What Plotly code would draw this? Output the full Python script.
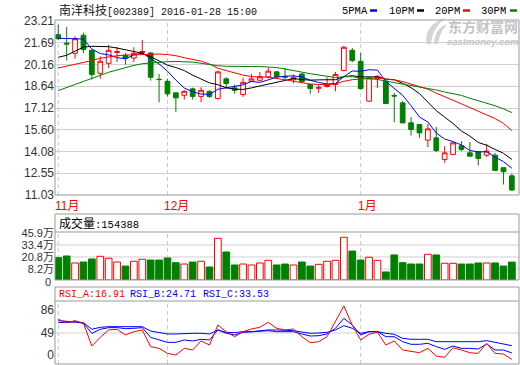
import plotly.graph_objects as go

# ---------------- data ----------------
dates = [
    "2015-11-12", "2015-11-13", "2015-11-16", "2015-11-17", "2015-11-18", "2015-11-19", "2015-11-20",
    "2015-11-23", "2015-11-24", "2015-11-25", "2015-11-26", "2015-11-27", "2015-11-30",
    "2015-12-01", "2015-12-02", "2015-12-03", "2015-12-04", "2015-12-07", "2015-12-08", "2015-12-09",
    "2015-12-10", "2015-12-11", "2015-12-14", "2015-12-15", "2015-12-16", "2015-12-17", "2015-12-18",
    "2015-12-21", "2015-12-22", "2015-12-23", "2015-12-24", "2015-12-25", "2015-12-28", "2015-12-29",
    "2015-12-30", "2015-12-31",
    "2016-01-04", "2016-01-05", "2016-01-06", "2016-01-07", "2016-01-08", "2016-01-11", "2016-01-12",
    "2016-01-13", "2016-01-14", "2016-01-15", "2016-01-18", "2016-01-19", "2016-01-20", "2016-01-21",
    "2016-01-22", "2016-01-25", "2016-01-26", "2016-01-27", "2016-01-28",
]

open_ = [22.25, 21.66, 20.95, 22.21, 21.16, 19.55, 20.25, 21.00, 20.81, 20.62, 21.00, 20.97, 19.13,
         18.99, 18.18, 18.01, 18.46, 17.93, 18.29, 17.78, 19.16, 18.53, 18.06, 18.99, 19.06, 19.30,
         19.65, 19.32, 19.10, 19.50, 18.76, 18.50, 18.62, 18.76, 19.74, 21.16, 20.39, 17.60, 19.18,
         19.00, 18.00, 17.48, 16.08, 15.96, 14.87, 15.03, 13.52, 13.86, 14.47, 13.98, 14.05, 13.82,
         13.82, 12.94, 12.37]
high = [22.95, 22.79, 22.14, 22.39, 21.20, 20.74, 21.53, 21.40, 20.97, 21.37, 21.88, 21.05, 19.51,
        19.16, 18.20, 18.35, 18.55, 18.57, 18.35, 19.74, 19.27, 18.76, 19.23, 19.51, 19.63, 19.92,
        19.72, 19.92, 19.46, 19.55, 18.80, 18.76, 19.27, 19.65, 21.48, 21.32, 20.97, 19.30, 19.40,
        19.05, 18.18, 17.60, 16.48, 16.00, 16.00, 15.80, 14.45, 14.72, 14.80, 14.73, 14.10, 14.61,
        13.98, 12.95, 12.54]
low = [21.90, 20.44, 20.58, 20.97, 19.11, 19.18, 19.92, 20.35, 20.16, 20.32, 20.95, 19.04, 17.52,
       17.93, 16.85, 17.71, 17.71, 17.52, 17.83, 17.71, 18.48, 18.11, 17.90, 18.94, 18.99, 19.18,
       19.25, 19.10, 18.83, 18.85, 18.11, 18.18, 18.55, 18.30, 19.69, 20.32, 18.41, 17.53, 18.53,
       17.40, 16.13, 16.05, 15.19, 15.03, 14.38, 14.05, 13.29, 13.83, 14.10, 13.68, 13.10, 13.68,
       12.70, 11.77, 11.31]
close = [21.97, 21.60, 21.97, 21.21, 19.46, 20.39, 21.16, 21.07, 20.62, 20.95, 21.07, 19.27, 19.11,
         18.11, 17.83, 18.29, 17.93, 18.36, 17.93, 19.65, 18.83, 18.36, 18.92, 19.16, 19.30, 19.70,
         19.30, 19.28, 19.27, 18.97, 18.48, 18.55, 18.72, 19.46, 21.37, 20.44, 18.48, 19.23, 19.34,
         17.43, 17.96, 16.08, 15.61, 15.38, 15.66, 14.14, 13.98, 14.68, 14.21, 13.75, 13.59, 14.10,
         12.75, 12.66, 11.38]

ma5 = [22.00, 21.99, 21.98, 21.95, 21.24, 20.93, 20.84, 20.65, 20.56, 20.83, 20.97, 20.59, 20.20,
       19.70, 19.07, 18.52, 18.25, 18.10, 18.07, 18.43, 18.54, 18.63, 18.74, 18.98, 18.91, 19.09,
       19.28, 19.35, 19.37, 19.30, 19.06, 18.91, 18.80, 18.84, 19.32, 19.71, 19.69, 19.80, 19.77,
       18.98, 18.49, 18.01, 17.28, 16.49, 16.14, 15.37, 14.95, 14.77, 14.53, 14.15, 14.04, 14.07,
       13.68, 13.37, 12.90]
ma10 = [20.67, 20.81, 21.10, 21.38, 21.44, 21.44, 21.41, 21.32, 21.18, 21.04, 20.95, 20.71, 20.43,
        20.12, 19.95, 19.74, 19.42, 19.15, 18.88, 18.75, 18.53, 18.44, 18.42, 18.53, 18.67, 18.81,
        18.95, 19.04, 19.18, 19.11, 19.07, 19.09, 19.07, 19.10, 19.31, 19.38, 19.30, 19.30, 19.30,
        19.15, 19.10, 18.85, 18.54, 18.13, 17.56, 16.93, 16.48, 16.03, 15.51, 15.15, 14.71, 14.51,
        14.22, 13.95, 13.52]
ma20 = [19.92, 20.04, 20.16, 20.27, 20.44, 20.60, 20.70, 20.78, 20.82, 20.85, 20.87, 20.88, 20.90,
        20.86, 20.78, 20.64, 20.52, 20.40, 20.20, 19.90, 19.74, 19.58, 19.42, 19.32, 19.31, 19.28,
        19.19, 19.10, 19.03, 18.93, 18.80, 18.77, 18.75, 18.81, 18.99, 19.10, 19.13, 19.17, 19.24,
        19.13, 19.09, 18.97, 18.81, 18.62, 18.44, 18.16, 17.89, 17.66, 17.41, 17.15, 16.90, 16.68,
        16.38, 16.04, 15.54]
ma30 = [18.34, 18.55, 18.76, 19.00, 19.23, 19.44, 19.62, 19.78, 19.95, 20.10, 20.22, 20.28, 20.34,
        20.36, 20.38, 20.38, 20.33, 20.25, 20.15, 20.08, 20.04, 20.02, 20.02, 20.02, 20.02, 20.00,
        19.95, 19.85, 19.72, 19.63, 19.52, 19.42, 19.31, 19.25, 19.31, 19.31, 19.22, 19.16, 19.12,
        19.00, 18.90, 18.79, 18.68, 18.59, 18.51, 18.38, 18.24, 18.12, 18.00, 17.80, 17.63, 17.48,
        17.28, 17.06, 16.80]

# volume, in 万
volume = [20.0, 21.8, 14.5, 15.5, 18.7, 21.5, 19.4, 15.5, 11.3, 16.3, 18.4, 17.6, 17.6, 19.7, 14.8,
          13.4, 15.5, 16.3, 10.3, 40.3, 26.0, 12.4, 13.4, 12.4, 14.5, 17.3, 12.4, 13.4, 12.4, 15.5,
          11.3, 13.1, 16.3, 17.3, 41.4, 27.0, 17.6, 20.5, 17.3, 5.1, 22.9, 14.8, 13.4, 13.4, 23.6,
          22.9, 14.2, 14.2, 13.4, 13.4, 14.5, 14.5, 14.5, 11.3, 15.4388]

rsi_a = [65.6, 61.6, 64.0, 60.8, 33.2, 43.7, 52.7, 53.5, 46.6, 50.6, 52.7, 32.3, 30.3, 24.2, 22.2,
         30.3, 28.3, 39.3, 34.4, 58.7, 50.6, 44.5, 50.6, 53.9, 55.9, 62.0, 54.7, 52.7, 53.9, 44.5,
         37.2, 38.4, 44.5, 62.8, 81.9, 58.7, 40.5, 47.4, 49.8, 34.4, 39.3, 28.3, 26.3, 25.0, 30.3,
         21.0, 19.4, 31.1, 28.3, 25.0, 24.2, 36.4, 24.2, 23.4, 16.91]
rsi_b = [61.6, 61.6, 62.4, 60.8, 48.6, 53.5, 55.5, 55.5, 54.3, 54.7, 55.5, 43.7, 40.5, 37.6, 37.6,
         40.5, 39.3, 41.3, 40.5, 52.7, 48.6, 46.6, 49.8, 50.6, 50.6, 51.8, 50.6, 50.2, 50.6, 47.8,
         45.3, 45.7, 47.8, 54.7, 66.9, 58.7, 46.6, 50.6, 50.6, 44.5, 44.5, 38.4, 35.2, 35.2, 36.4,
         32.4, 29.1, 33.2, 30.3, 30.3, 29.5, 35.6, 28.3, 28.3, 24.71]
rsi_c = [64.0, 63.2, 62.8, 61.6, 53.5, 55.9, 56.7, 56.7, 56.3, 55.9, 56.7, 51.4, 49.4, 47.8, 47.8,
         48.6, 48.6, 48.6, 47.8, 52.7, 49.8, 49.4, 50.6, 50.6, 51.6, 52.7, 52.7, 52.3, 51.8, 50.2,
         48.6, 49.0, 49.8, 52.7, 57.9, 54.7, 48.6, 50.6, 50.6, 48.6, 47.4, 42.5, 41.3, 41.3, 41.3,
         38.4, 38.4, 39.3, 39.3, 38.4, 38.4, 39.7, 37.6, 36.4, 33.53]

price_ticks = [11.03, 12.55, 14.08, 15.60, 17.12, 18.64, 20.16, 21.69, 23.21]
vol_ticks = [8.2, 20.8, 33.4, 45.9]
rsi_grid = 49
month_labels = ["11月", "12月", "1月"]

stock_title = "南洋科技"
stock_code = "[002389] 2016-01-28 15:00"

# ---------------- geometry helpers (pixel -> paper) ----------------
def px(x):
    return (x - 55) / 464.0

def py(y):
    return (364 - y) / 344.0

RED = "#ff0000"
GREEN = "#008000"
BLUE = "#0000ff"
GRID = "#d0d0d0"
BORDER = "#999999"
TXT = "#333333"
LAT = "Liberation Sans, Noto Sans CJK SC, sans-serif"
MONO = "Liberation Mono, monospace"
CJK = "Noto Sans CJK SC, sans-serif"

VOL_MIN, VOL_MAX = -3.32, 65.8
RSI_MIN, RSI_MAX = 11.24, 105.0

up = [c >= o for o, c in zip(open_, close)]

fig = go.Figure()

fig.add_trace(go.Candlestick(
    x=dates, open=open_, high=high, low=low, close=close,
    increasing=dict(line=dict(color=RED, width=1), fillcolor="#ffffff"),
    decreasing=dict(line=dict(color=GREEN, width=1), fillcolor=GREEN),
    whiskerwidth=0, xaxis="x", yaxis="y", showlegend=False, hoverinfo="skip",
))
for ser, col in [(ma5, BLUE), (ma10, "#000000"), (ma20, RED), (ma30, GREEN)]:
    fig.add_trace(go.Scatter(x=dates, y=ser, mode="lines", line=dict(color=col, width=1),
                             xaxis="x", yaxis="y", showlegend=False, hoverinfo="skip"))

fig.add_trace(go.Bar(
    x=dates, y=[v - VOL_MIN for v in volume], base=VOL_MIN, width=0.8,
    marker=dict(color=["#ffffff" if u else GREEN for u in up],
                line=dict(color=[RED if u else GREEN for u in up], width=1)),
    xaxis="x", yaxis="y2", showlegend=False, hoverinfo="skip",
))

for ser, col in [(rsi_c, BLUE), (rsi_b, BLUE), (rsi_a, RED)]:
    fig.add_trace(go.Scatter(x=dates, y=ser, mode="lines", line=dict(color=col, width=1),
                             xaxis="x", yaxis="y3", showlegend=False, hoverinfo="skip"))

shapes = []
# gridlines volume / rsi
for v in vol_ticks[:-1]:
    shapes.append(dict(type="line", xref="paper", yref="y2", x0=0, x1=1, y0=v, y1=v,
                       line=dict(color=GRID, width=1), layer="below"))
shapes.append(dict(type="line", xref="paper", yref="y3", x0=0, x1=1, y0=rsi_grid, y1=rsi_grid,
                   line=dict(color=GRID, width=1), layer="below"))

# month separators
month_idx = [i for i in range(len(dates)) if i == 0 or dates[i][5:7] != dates[i - 1][5:7]]
for i in month_idx:
    for (a, b) in [(py(195), py(20)), (py(280), py(232)), (py(364), py(301))]:
        shapes.append(dict(type="line", xref="x", yref="paper", x0=dates[i], x1=dates[i], y0=a, y1=b,
                           line=dict(color="#c8c8c8", width=1, dash="4px,3px"), layer="below"))

# panel borders
for (a, b) in [(py(195), py(20)), (py(280), py(214)), (py(364), py(287))]:
    shapes.append(dict(type="rect", xref="paper", yref="paper", x0=0, x1=1, y0=a, y1=b,
                       line=dict(color=BORDER, width=1), fillcolor="rgba(0,0,0,0)"))
for yy in [232, 301]:
    shapes.append(dict(type="line", xref="paper", yref="paper", x0=0, x1=1, y0=py(yy), y1=py(yy),
                       line=dict(color=BORDER, width=1)))

# legend dashes
for (x0, x1, col) in [(370, 377, BLUE), (417, 424, "#000000"), (463, 470, RED), (510, 517, GREEN)]:
    shapes.append(dict(type="line", xref="paper", yref="paper", x0=px(x0), x1=px(x1),
                       y0=py(10.5), y1=py(10.5), line=dict(color=col, width=2.5)))

# watermark logo swoosh
def path(pts):
    s = "M %f,%f" % (px(pts[0][0]), py(pts[0][1]))
    for i in range(1, len(pts), 3):
        s += " C %f,%f %f,%f %f,%f" % (px(pts[i][0]), py(pts[i][1]), px(pts[i + 1][0]), py(pts[i + 1][1]),
                                       px(pts[i + 2][0]), py(pts[i + 2][1]))
    return s + " Z"

shapes.append(dict(type="path", xref="paper", yref="paper",
                   path=path([(427, 44), (424, 32), (432, 22), (445, 18), (437, 25), (432, 33), (431, 44)]),
                   fillcolor="#d4d4d4", line=dict(width=0), layer="below"))
shapes.append(dict(type="path", xref="paper", yref="paper",
                   path=path([(434, 44), (434, 34), (439, 27), (447, 24), (442, 30), (439, 37), (438, 44)]),
                   fillcolor="#d4d4d4", line=dict(width=0), layer="below"))

ann = []
ann.append(dict(xref="paper", yref="paper", x=px(57), y=py(10), xanchor="left", yanchor="middle",
                showarrow=False, font=dict(family=CJK, size=12, color="#111111"),
                text=stock_title + "<span style='font-family:Liberation Mono;font-size:10px'>" + stock_code + "</span>"))
for (x, t) in [(340, "5PMA"), (387, "10PM"), (433, "20PM"), (479, "30PM")]:
    ann.append(dict(xref="paper", yref="paper", x=px(x), y=py(10.5), xanchor="left", yanchor="middle",
                    showarrow=False, font=dict(family=MONO, size=10.5, color="#000000"), text=t))
ann.append(dict(xref="paper", yref="paper", x=px(483), y=py(26), xanchor="center", yanchor="middle",
                showarrow=False, font=dict(family=CJK, size=14, color="#c4c4c4"), text="<b>东方财富网</b>"))
ann.append(dict(xref="paper", yref="paper", x=px(483), y=py(41.5), xanchor="center", yanchor="middle",
                showarrow=False, font=dict(family=LAT, size=9.5, color="#c4c4c4"), text="<b><i>eastmoney.com</i></b>"))
for i, lab in zip(month_idx, month_labels):
    ann.append(dict(xref="x", yref="paper", x=dates[i], y=py(206), xanchor="left", yanchor="middle",
                    xshift=-5, showarrow=False, font=dict(family=LAT, size=12, color=RED), text=lab))
ann.append(dict(xref="paper", yref="paper", x=px(57), y=py(223), xanchor="left", yanchor="middle",
                showarrow=False, font=dict(family=CJK, size=12, color="#000000"),
                text="成交量<span style='font-family:Liberation Mono;font-size:10.5px'>:%d</span>" % round(volume[-1] * 10000)))
for (x, t, col) in [(57, "RSI_A:%.2f" % rsi_a[-1], RED), (128, "RSI_B:%.2f" % rsi_b[-1], BLUE),
                    (201, "RSI_C:%.2f" % rsi_c[-1], BLUE)]:
    ann.append(dict(xref="paper", yref="paper", x=px(x), y=py(294), xanchor="left", yanchor="middle",
                    showarrow=False, font=dict(family=MONO, size=10, color=col), text=t))
# volume-axis floor label
ann.append(dict(xref="paper", yref="paper", x=px(53), y=py(281.5), xanchor="right", yanchor="middle",
                showarrow=False, font=dict(family=LAT, size=11, color=TXT), text="0"))

tickfont = dict(family=LAT, size=12, color=TXT)
fig.update_layout(
    width=520, height=365, autosize=False,
    margin=dict(l=55, r=1, t=20, b=1, pad=0, autoexpand=False),
    paper_bgcolor="#ffffff", plot_bgcolor="#ffffff",
    showlegend=False, boxgap=0.2, bargap=0.2,
    xaxis=dict(type="category", range=[-0.39, 54.85], showticklabels=False, showgrid=False,
               zeroline=False, showline=False, ticks="", rangeslider=dict(visible=False), fixedrange=True),
    yaxis=dict(domain=[py(195), py(20)], range=[11.03, 23.28], tickvals=price_ticks,
               ticktext=["%.2f" % t for t in price_ticks], showgrid=True, gridcolor=GRID, gridwidth=1,
               zeroline=False, showline=False, ticks="", tickfont=tickfont, fixedrange=True),
    yaxis2=dict(domain=[py(280), py(214)], range=[VOL_MIN, VOL_MAX], anchor="x",
                tickvals=vol_ticks, ticktext=["%.1f万" % v for v in vol_ticks],
                showgrid=False, zeroline=False, showline=False, ticks="",
                tickfont=dict(family=LAT, size=11, color=TXT), fixedrange=True),
    yaxis3=dict(domain=[py(364), py(287)], range=[RSI_MIN, RSI_MAX], anchor="x",
                tickvals=[77.0, 49, 22.2], ticktext=["86", "49", "0"],
                showgrid=False, zeroline=False, showline=False, ticks="", tickfont=tickfont, fixedrange=True),
    shapes=shapes, annotations=ann,
)

post = (
    "document.body.style.margin='0px';"
    "document.body.style.overflow='hidden';"
    "document.documentElement.style.overflow='hidden';"
    "var gds=document.getElementsByClassName('plotly-graph-div');"
    "for(var k=0;k<gds.length;k++){gds[k].style.overflow='hidden';}"
)
fig.write_html("out.html", config={"displayModeBar": False}, post_script=post)
